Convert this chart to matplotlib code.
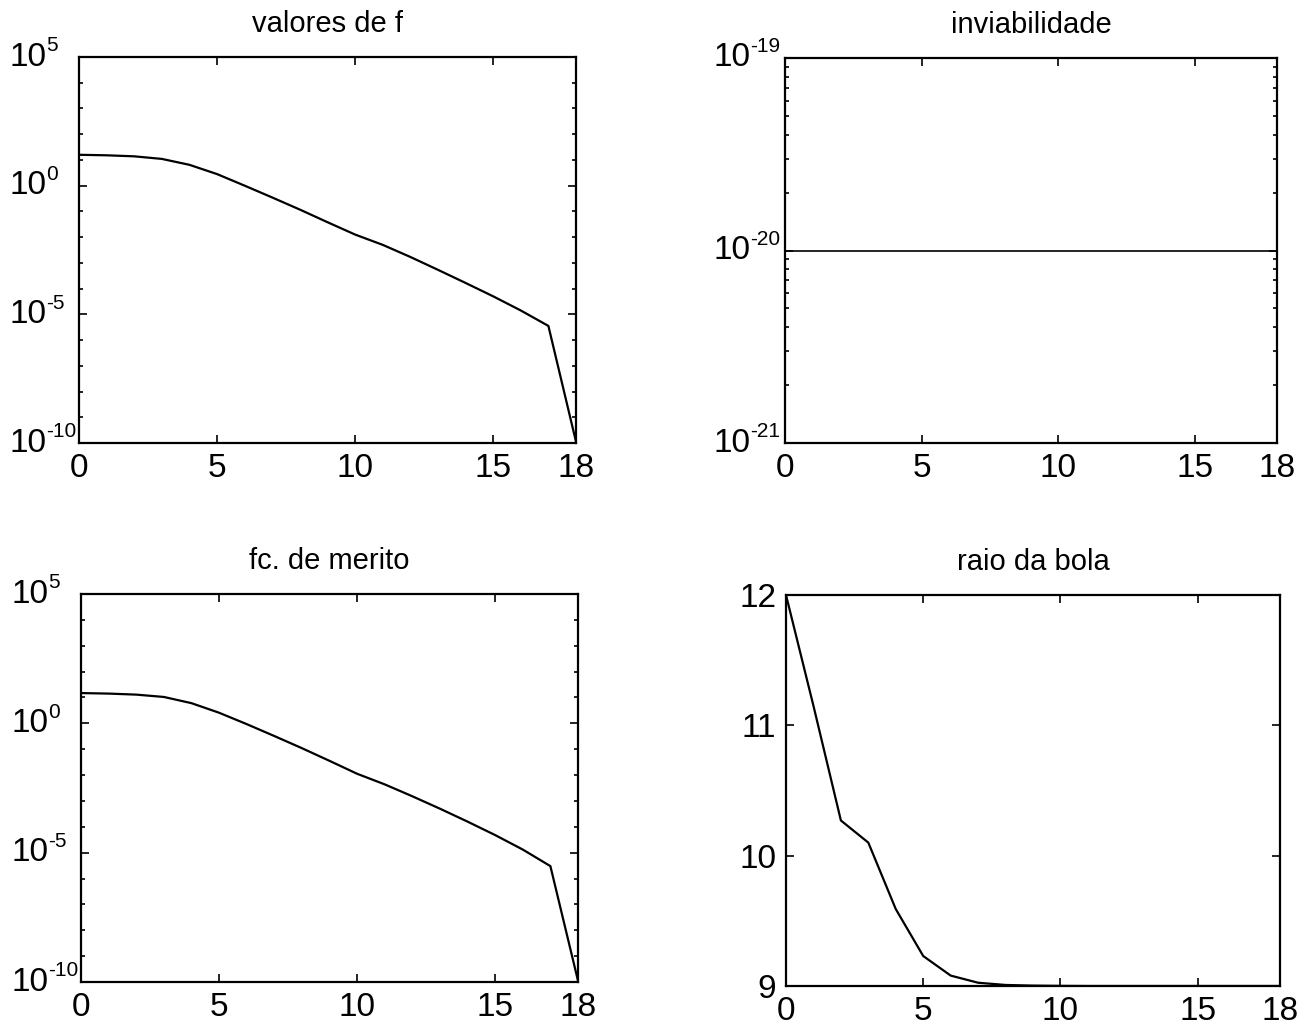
import matplotlib.pyplot as plt
import matplotlib.ticker as mticker
import numpy as np

plt.rcParams['font.family'] = ['Liberation Sans', 'DejaVu Sans']
plt.rcParams['axes.unicode_minus'] = False

# iterations
iters = list(range(19))

# log10 of f values
log_f = [1.20, 1.18, 1.14, 1.04, 0.81, 0.45, 0.0, -0.46, -0.93, -1.42,
         -1.90, -2.30, -2.77, -3.27, -3.78, -4.30, -4.85, -5.45, -9.95]
f_vals = [10 ** v for v in log_f]

# merit function (log10)
log_merit = [1.17, 1.15, 1.11, 1.02, 0.78, 0.41, -0.03, -0.49, -0.96, -1.45,
             -1.95, -2.36, -2.82, -3.30, -3.80, -4.32, -4.88, -5.52, -9.95]
merit_vals = [10 ** v for v in log_merit]

# infeasibility
infeas = [1e-20] * 19

# ball radius
raio = [12.0, 11.15, 10.27, 10.10, 9.59, 9.23, 9.08, 9.025, 9.008, 9.003,
        9.001, 9.0, 9.0, 9.0, 9.0, 9.0, 9.0, 9.0, 9.0]

W, H = 1309, 1028
fig = plt.figure(figsize=(W / 100, H / 100), dpi=100)


def make_ax(l, r, t, b):
    return fig.add_axes([l / W, 1 - b / H, (r - l) / W, (b - t) / H])


def style(ax, title):
    ax.set_title(title, fontsize=21, pad=18)
    ax.set_xlim(0, 18)
    ax.set_xticks([0, 5, 10, 15, 18])
    ax.tick_params(axis='both', which='both', direction='in', top=True, right=True,
                   labelsize=24, width=1.2)
    ax.tick_params(axis='both', which='major', length=6)
    ax.tick_params(axis='both', which='minor', length=3)
    ax.tick_params(axis='x', pad=7)
    ax.tick_params(axis='y', pad=7)
    for s in ax.spines.values():
        s.set_linewidth(1.6)


# matlab style "10" with small exponent next to it
def log_labels(ax, vals, dx):
    ax.yaxis.set_major_locator(mticker.FixedLocator(vals))
    ax.yaxis.set_major_formatter(mticker.NullFormatter())
    ax.yaxis.set_minor_formatter(mticker.NullFormatter())
    for v in vals:
        e = int(round(np.log10(v)))
        base = ax.annotate('10', xy=(0, v), xycoords=ax.get_yaxis_transform(),
                           xytext=(-dx, 0), textcoords='offset pixels',
                           ha='right', va='center', fontsize=24)
        ax.annotate(str(e), xy=(1.0, 0.55), xycoords=base,
                    ha='left', va='bottom', fontsize=15)


# valores de f
ax1 = make_ax(79, 576, 57, 443)
ax1.semilogy(iters, f_vals, color='black', lw=1.6)
ax1.set_ylim(1e-10, 1e5)
ax1.yaxis.set_minor_locator(mticker.FixedLocator([10.0 ** k for k in range(-10, 6)]))
log_labels(ax1, [1e-10, 1e-5, 1e0, 1e5], 33)
style(ax1, 'valores de f')

# inviabilidade
ax2 = make_ax(785, 1277, 58, 443)
ax2.semilogy(iters, infeas, color='black', lw=1.2)
ax2.set_ylim(1e-21, 1e-19)
ax2.yaxis.set_minor_locator(mticker.LogLocator(base=10, subs=np.arange(2, 10)))
log_labels(ax2, [1e-21, 1e-20, 1e-19], 35)
style(ax2, 'inviabilidade')

# fc. de merito
ax3 = make_ax(81, 578, 594, 982)
ax3.semilogy(iters, merit_vals, color='black', lw=1.6)
ax3.set_ylim(1e-10, 1e5)
ax3.yaxis.set_minor_locator(mticker.FixedLocator([10.0 ** k for k in range(-10, 6)]))
log_labels(ax3, [1e-10, 1e-5, 1e0, 1e5], 33)
style(ax3, 'fc. de merito')

# raio da bola
ax4 = make_ax(786, 1280, 595, 986)
ax4.plot(iters, raio, color='black', lw=1.6)
ax4.set_ylim(9, 12)
ax4.set_yticks([9, 10, 11, 12])
style(ax4, 'raio da bola')

fig.savefig('out.png', dpi=100)
